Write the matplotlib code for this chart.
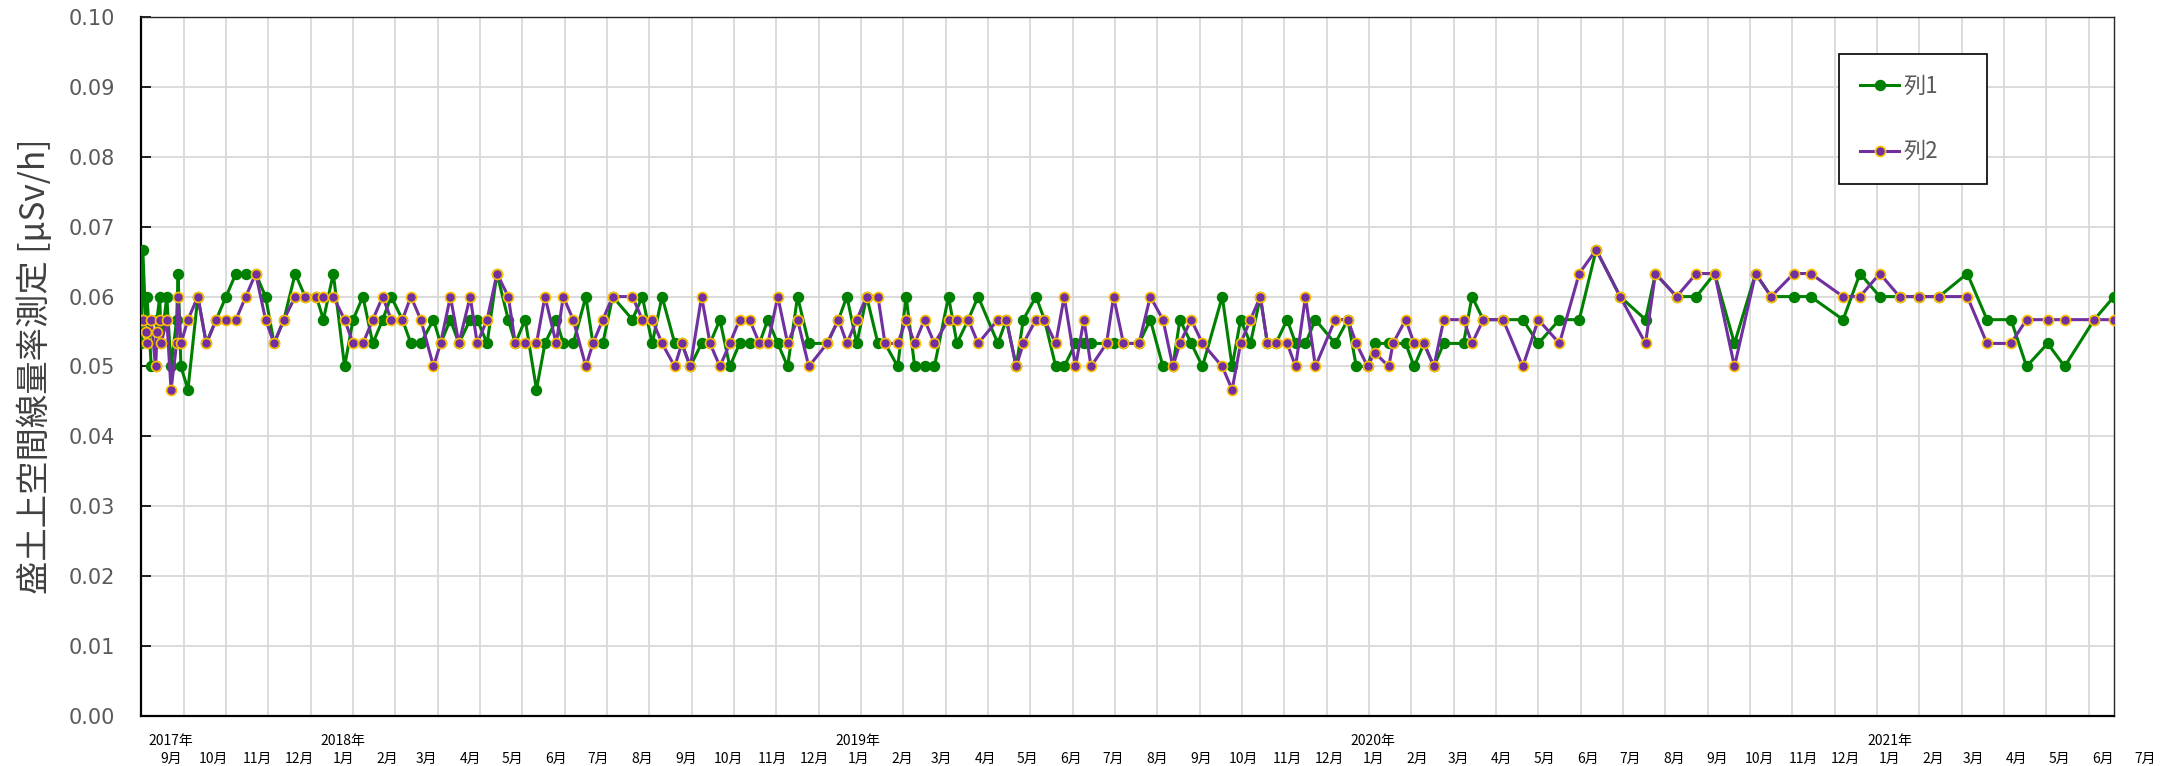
import pandas as pd
import matplotlib
matplotlib.use('Agg')
import matplotlib.pyplot as plt
import matplotlib.transforms as mtransforms

plt.rcParams['font.family'] = ['Noto Sans CJK JP', 'DejaVu Sans']

# measurement dates (shared by both series)
dates = [
    '2017-08-11', '2017-08-12', '2017-08-14', '2017-08-15', '2017-08-18', '2017-08-21',
    '2017-08-22', '2017-08-24', '2017-08-25', '2017-08-29', '2017-09-01', '2017-09-05',
    '2017-09-06', '2017-09-08',
    '2017-09-13', '2017-09-20', '2017-09-26', '2017-10-03', '2017-10-10', '2017-10-17',
    '2017-10-24', '2017-10-31', '2017-11-07', '2017-11-13', '2017-11-20', '2017-11-28',
    '2017-12-05', '2017-12-13', '2017-12-18', '2017-12-25',
    '2018-01-02', '2018-01-08', '2018-01-15', '2018-01-22', '2018-01-29', '2018-02-04',
    '2018-02-12', '2018-02-18', '2018-02-25', '2018-03-06', '2018-03-11', '2018-03-18',
    '2018-03-24', '2018-04-01', '2018-04-06', '2018-04-13', '2018-04-20', '2018-04-28',
    '2018-05-03', '2018-05-10', '2018-05-18', '2018-05-24', '2018-06-01', '2018-06-06',
    '2018-06-13', '2018-06-22', '2018-06-27', '2018-07-04', '2018-07-11', '2018-07-25',
    '2018-08-01', '2018-08-08', '2018-08-15', '2018-08-24', '2018-08-29', '2018-09-04',
    '2018-09-12', '2018-09-18', '2018-09-25', '2018-10-02', '2018-10-09', '2018-10-16',
    '2018-10-23', '2018-10-29', '2018-11-05', '2018-11-12', '2018-11-19', '2018-11-27',
    '2018-12-10', '2018-12-18', '2018-12-24', '2018-12-31',
    '2019-01-07', '2019-01-15', '2019-01-20', '2019-01-29', '2019-02-04', '2019-02-10',
    '2019-02-17', '2019-02-24', '2019-03-06', '2019-03-12', '2019-03-20', '2019-03-27',
    '2019-04-10', '2019-04-16', '2019-04-23', '2019-04-28', '2019-05-07', '2019-05-13',
    '2019-05-21', '2019-05-27', '2019-06-04', '2019-06-10', '2019-06-15', '2019-06-26',
    '2019-07-01', '2019-07-08', '2019-07-19', '2019-07-27', '2019-08-05', '2019-08-12',
    '2019-08-17', '2019-08-25', '2019-09-02', '2019-09-16', '2019-09-23', '2019-09-29',
    '2019-10-06', '2019-10-13', '2019-10-18', '2019-10-24', '2019-11-01', '2019-11-07',
    '2019-11-14', '2019-11-21', '2019-12-05', '2019-12-14', '2019-12-20', '2019-12-28',
    '2020-01-02', '2020-01-12', '2020-01-15', '2020-01-24', '2020-01-30', '2020-02-06',
    '2020-02-13', '2020-02-20', '2020-03-05', '2020-03-11', '2020-03-19', '2020-04-02',
    '2020-04-16', '2020-04-27', '2020-05-12', '2020-05-26', '2020-06-07', '2020-06-24',
    '2020-07-12', '2020-07-19', '2020-08-03', '2020-08-17', '2020-08-30', '2020-09-13',
    '2020-09-28', '2020-10-09', '2020-10-25', '2020-11-06', '2020-11-29', '2020-12-11',
    '2020-12-25',
    '2021-01-08', '2021-01-22', '2021-02-05', '2021-02-25', '2021-03-11', '2021-03-28',
    '2021-04-08', '2021-04-23', '2021-05-05', '2021-05-26', '2021-06-09',
]

# 列1 (green)
col1 = [
    0.0533, 0.0667, 0.0567, 0.06, 0.05, 0.05, 0.0567, 0.06, 0.0533, 0.06, 0.05, 0.0567,
    0.0633, 0.05,
    0.0467, 0.06, 0.0533, 0.0567, 0.06, 0.0633, 0.0633, 0.0633, 0.06, 0.0533, 0.0567, 0.0633,
    0.06, 0.06, 0.0567, 0.0633,
    0.05, 0.0567, 0.06, 0.0533, 0.0567, 0.06, 0.0567, 0.0533, 0.0533, 0.0567, 0.0533, 0.0567,
    0.0533, 0.0567, 0.0567, 0.0533, 0.0633, 0.0567, 0.0533, 0.0567, 0.0467, 0.0533, 0.0567, 0.0533,
    0.0533, 0.06, 0.0533, 0.0533, 0.06, 0.0567, 0.06, 0.0533, 0.06, 0.0533, 0.0533, 0.05,
    0.0533, 0.0533, 0.0567, 0.05, 0.0533, 0.0533, 0.0533, 0.0567, 0.0533, 0.05, 0.06, 0.0533,
    0.0533, 0.0567, 0.06, 0.0533,
    0.06, 0.0533, 0.0533, 0.05, 0.06, 0.05, 0.05, 0.05, 0.06, 0.0533, 0.0567, 0.06,
    0.0533, 0.0567, 0.05, 0.0567, 0.06, 0.0567, 0.05, 0.05, 0.0533, 0.0533, 0.0533, 0.0533,
    0.0533, 0.0533, 0.0533, 0.0567, 0.05, 0.05, 0.0567, 0.0533, 0.05, 0.06, 0.05, 0.0567,
    0.0533, 0.06, 0.0533, 0.0533, 0.0567, 0.0533, 0.0533, 0.0567, 0.0533, 0.0567, 0.05, 0.05,
    0.0533, 0.0533, 0.0533, 0.0533, 0.05, 0.0533, 0.05, 0.0533, 0.0533, 0.06, 0.0567, 0.0567,
    0.0567, 0.0533, 0.0567, 0.0567, 0.0667, 0.06, 0.0567, 0.0633, 0.06, 0.06, 0.0633, 0.0533,
    0.0633, 0.06, 0.06, 0.06, 0.0567, 0.0633, 0.06,
    0.06, 0.06, 0.06, 0.0633, 0.0567, 0.0567, 0.05, 0.0533, 0.05, 0.0567, 0.06,
]

# 列2 (purple)
col2 = [
    0.0567, 0.0567, 0.055, 0.0533, 0.0567, 0.05, 0.055, 0.0567, 0.0533, 0.0567, 0.0467, 0.0533,
    0.06, 0.0533,
    0.0567, 0.06, 0.0533, 0.0567, 0.0567, 0.0567, 0.06, 0.0633, 0.0567, 0.0533, 0.0567, 0.06,
    0.06, 0.06, 0.06, 0.06,
    0.0567, 0.0533, 0.0533, 0.0567, 0.06, 0.0567, 0.0567, 0.06, 0.0567, 0.05, 0.0533, 0.06,
    0.0533, 0.06, 0.0533, 0.0567, 0.0633, 0.06, 0.0533, 0.0533, 0.0533, 0.06, 0.0533, 0.06,
    0.0567, 0.05, 0.0533, 0.0567, 0.06, 0.06, 0.0567, 0.0567, 0.0533, 0.05, 0.0533, 0.05,
    0.06, 0.0533, 0.05, 0.0533, 0.0567, 0.0567, 0.0533, 0.0533, 0.06, 0.0533, 0.0567, 0.05,
    0.0533, 0.0567, 0.0533, 0.0567,
    0.06, 0.06, 0.0533, 0.0533, 0.0567, 0.0533, 0.0567, 0.0533, 0.0567, 0.0567, 0.0567, 0.0533,
    0.0567, 0.0567, 0.05, 0.0533, 0.0567, 0.0567, 0.0533, 0.06, 0.05, 0.0567, 0.05, 0.0533,
    0.06, 0.0533, 0.0533, 0.06, 0.0567, 0.05, 0.0533, 0.0567, 0.0533, 0.05, 0.0467, 0.0533,
    0.0567, 0.06, 0.0533, 0.0533, 0.0533, 0.05, 0.06, 0.05, 0.0567, 0.0567, 0.0533, 0.05,
    0.052, 0.05, 0.0533, 0.0567, 0.0533, 0.0533, 0.05, 0.0567, 0.0567, 0.0533, 0.0567, 0.0567,
    0.05, 0.0567, 0.0533, 0.0633, 0.0667, 0.06, 0.0533, 0.0633, 0.06, 0.0633, 0.0633, 0.05,
    0.0633, 0.06, 0.0633, 0.0633, 0.06, 0.06, 0.0633,
    0.06, 0.06, 0.06, 0.06, 0.0533, 0.0533, 0.0567, 0.0567, 0.0567, 0.0567, 0.0567,
]

x_start, x_end = '2017-08-11', '2021-06-09'
grid_step_days = 30
label_months = pd.date_range('2017-09-01', '2021-07-01', freq='MS')

x = pd.to_datetime(dates)
fig = plt.figure(figsize=(21.72, 7.66), dpi=100)
ax = fig.add_axes([0.0651, 0.0653, 0.9082, 0.9125])

ax.plot(x, col1, color='#008000', lw=2.2, marker='o', ms=7.2, mfc='#008000', mec='#008000',
        label='列1', zorder=3)
ax.plot(x, col2, color='#7030A0', lw=2.2, marker='o', ms=7.2, mfc='#7030A0', mec='#FFC000',
        mew=1.2, label='列2', zorder=4)

ax.set_ylim(0, 0.1)
ax.set_xlim(pd.Timestamp(x_start), pd.Timestamp(x_end))
ax.set_yticks([i / 100 for i in range(11)])
ax.set_yticklabels([f'{i / 100:.2f}' for i in range(11)], family='DejaVu Sans',
                   fontsize=15, color='#595959')
ax.tick_params(axis='y', direction='in', length=7, width=1.2, pad=19, color='black')

grid_dates = pd.date_range(pd.Timestamp(x_start) + pd.Timedelta(days=grid_step_days),
                           pd.Timestamp(x_end), freq=f'{grid_step_days}D')
ax.set_xticks(grid_dates)
ax.set_xticklabels([])
ax.tick_params(axis='x', length=0)
ax.grid(True, color='#d9d9d9', lw=1.3)
ax.set_axisbelow(True)

for side in ['left', 'bottom']:
    ax.spines[side].set_color('black')
    ax.spines[side].set_linewidth(1.6)
for side in ['top', 'right']:
    ax.spines[side].set_color('#262626')
    ax.spines[side].set_linewidth(1.0)

trans = mtransforms.blended_transform_factory(ax.transData, ax.transAxes)
for i, m in enumerate(label_months):
    ax.text(m, -0.0615, f'{m.month}月', transform=trans, ha='center', va='center',
            fontsize=10, color='black', clip_on=False)
    if i == 0 or m.month == 1:
        ax.text(m, -0.0358, f'{m.year}年', transform=trans, ha='center', va='center',
                fontsize=10, color='black', clip_on=False)

ax.set_ylabel('盛土上空間線量率測定 [μSv/h]', fontsize=24, color='#404040', va='center')
ax.yaxis.set_label_coords(-0.054, 0.5)

leg = ax.legend(loc='upper left',
                bbox_to_anchor=(1839 / 2172, 1 - 54 / 766, 148 / 2172, 0.0),
                bbox_transform=fig.transFigure, mode='expand', borderaxespad=0,
                borderpad=0.95, labelspacing=1.9, handlelength=1.75, handletextpad=0.2,
                fontsize=16, frameon=True, fancybox=False, edgecolor='black',
                framealpha=1, alignment='center')
leg.get_frame().set_linewidth(1.2)
for t in leg.get_texts():
    t.set_color('#595959')

fig.savefig('out.png', dpi=100)
